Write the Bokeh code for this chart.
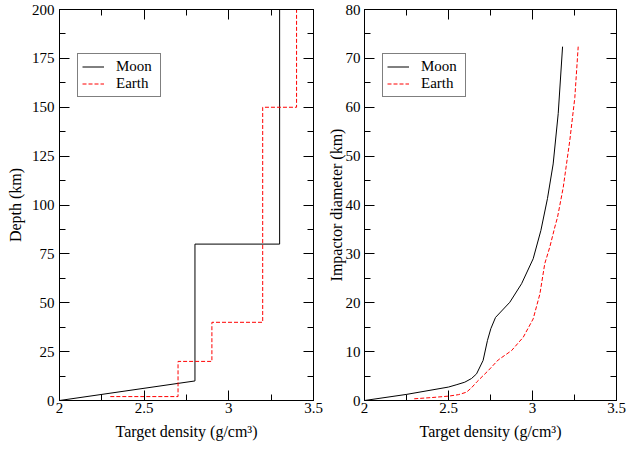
from bokeh.plotting import figure
from bokeh.layouts import row
from bokeh.models import Range1d, FixedTicker, LinearAxis, NumeralTickFormatter
from bokeh.embed import file_html
from bokeh.resources import INLINE

# ---- data: left panel (density profile vs depth) ----
moon_profile_density = [2.0, 2.8, 2.8, 3.3, 3.3]
moon_profile_depth = [0, 10, 80, 80, 200]
earth_profile_density = [2.3, 2.7, 2.7, 2.9, 2.9, 3.2, 3.2, 3.4, 3.4]
earth_profile_depth = [2, 2, 20, 20, 40, 40, 150, 150, 200]

# ---- data: right panel (impactor diameter vs target density) ----
moon_density = [2.0, 2.25, 2.5, 2.55, 2.597, 2.637, 2.667, 2.706, 2.732, 2.752,
                2.78, 2.865, 2.935, 3.004, 3.050, 3.089, 3.123, 3.153, 3.179]
moon_diameter = [0, 1.25, 2.75, 3.25, 3.75, 4.5, 5.45, 8.2, 12.3, 14.7,
                 17.0, 20.1, 23.9, 29.0, 34.8, 41.3, 48.4, 58.7, 72.4]
earth_density = [2.296, 2.4, 2.502, 2.56, 2.607, 2.637, 2.667, 2.736, 2.796, 2.875,
                 2.945, 3.004, 3.044, 3.073, 3.103, 3.133, 3.149, 3.183, 3.222,
                 3.252, 3.272]
earth_diameter = [0.35, 0.6, 0.9, 1.2, 1.7, 2.6, 3.75, 6.1, 8.3, 10.2,
                  12.95, 16.7, 21.8, 28.0, 31.4, 35.5, 37.5, 43.6, 53.2,
                  62.0, 72.4]

x_ticks = [2, 2.5, 3, 3.5]
x_minor = [2.25, 2.75, 3.25]
left_y_ticks = [0, 25, 50, 75, 100, 125, 150, 175, 200]
left_y_minor = [12.5, 37.5, 62.5, 87.5, 112.5, 137.5, 162.5, 187.5]
right_y_ticks = [0, 10, 20, 30, 40, 50, 60, 70, 80]
right_y_minor = [5, 15, 25, 35, 45, 55, 65, 75]

FONT = "Liberation Serif"
x_title = "Target density (g/cm³)"


def style_axis(ax, labels=True):
    ax.axis_line_color = "black"
    ax.axis_line_width = 1
    ax.major_tick_in = 10
    ax.major_tick_out = 0
    ax.minor_tick_in = 6
    ax.minor_tick_out = 0
    ax.major_tick_line_color = "black"
    ax.minor_tick_line_color = "black"
    ax.major_label_text_font = FONT
    ax.major_label_text_font_size = "15px"
    ax.axis_label_text_font = FONT
    ax.axis_label_text_font_style = "normal"
    ax.axis_label_text_color = "black"
    ax.axis_label_text_font_size = "16px"
    if labels:
        ax.major_label_text_color = "black"
    else:
        ax.major_label_text_color = None
        ax.major_label_standoff = 0


def make_panel(width, bl, br, yr, yt, ym, ylabel, lab_standoff, tick_standoff):
    p = figure(width=width, height=450, output_backend="svg", toolbar_location=None,
               x_range=Range1d(2, 3.5), y_range=Range1d(*yr),
               min_border_left=bl, min_border_right=br, min_border_top=9, min_border_bottom=50)
    p.grid.visible = False
    p.outline_line_color = "black"
    p.outline_line_width = 1
    p.background_fill_color = "white"
    p.border_fill_color = "white"
    p.xaxis.ticker = FixedTicker(ticks=x_ticks, minor_ticks=x_minor)
    p.yaxis.ticker = FixedTicker(ticks=yt, minor_ticks=ym)
    p.xaxis.formatter = NumeralTickFormatter(format="0.[0]")
    p.xaxis.axis_label = x_title
    p.yaxis.axis_label = ylabel
    style_axis(p.xaxis[0])
    style_axis(p.yaxis[0])
    p.xaxis.major_label_standoff = 2
    p.xaxis.axis_label_standoff = 7
    p.yaxis.major_label_standoff = tick_standoff
    p.yaxis.axis_label_standoff = lab_standoff
    top = LinearAxis(ticker=FixedTicker(ticks=x_ticks, minor_ticks=x_minor))
    right = LinearAxis(ticker=FixedTicker(ticks=yt, minor_ticks=ym))
    style_axis(top, labels=False)
    style_axis(right, labels=False)
    p.add_layout(top, "above")
    p.add_layout(right, "right")
    return p


p1 = make_panel(323, 59, 10, (0, 200), left_y_ticks, left_y_minor, "Depth (km)", 5, 5)
p1.line(moon_profile_density, moon_profile_depth, color="black", line_width=1, legend_label="Moon")
p1.line(earth_profile_density, earth_profile_depth, color="red", line_width=1,
        line_dash="4 2", legend_label="Earth")

p2 = make_panel(303, 41, 10, (0, 80), right_y_ticks, right_y_minor, "Impactor diameter (km)", -2, 4)
p2.line(moon_density, moon_diameter, color="black", line_width=1, legend_label="Moon")
p2.line(earth_density, earth_diameter, color="red", line_width=1,
        line_dash="4 2", legend_label="Earth")

for p in (p1, p2):
    lg = p.legend[0]
    lg.location = (18, 303)
    lg.border_line_color = "black"
    lg.border_line_width = 1
    lg.background_fill_color = "white"
    lg.background_fill_alpha = 1
    lg.label_text_font = FONT
    lg.label_text_font_size = "15px"
    lg.label_text_color = "black"
    lg.glyph_width = 22
    lg.glyph_height = 15
    lg.label_height = 15
    lg.label_width = 40
    lg.label_standoff = 12
    lg.padding = 4
    lg.spacing = 0
    lg.margin = 0

layout = row(p1, p2)
open("out.html", "w").write(file_html(layout, INLINE))
